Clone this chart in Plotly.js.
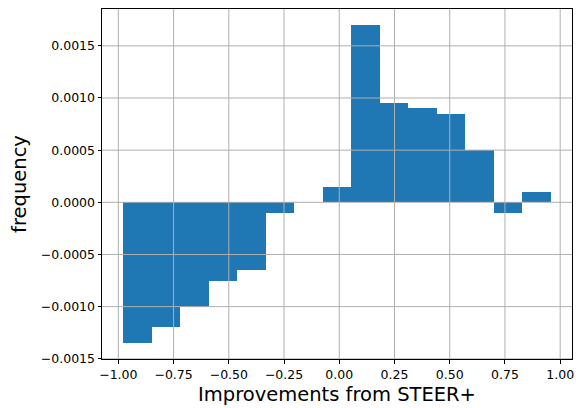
<!DOCTYPE html>
<html>
<head>
<meta charset="utf-8">
<script src="https://cdn.plot.ly/plotly-3.0.1.min.js"></script>
<style>html,body{margin:0;padding:0;background:#fff;}#chart{width:576px;height:408px;}</style>
</head>
<body>
<div id="chart"></div>
<script>
// Bin centers (improvement) and bar heights (frequency)
const binCenters = [-0.913, -0.784, -0.655, -0.526, -0.397, -0.268, -0.139, -0.010, 0.119, 0.248, 0.377, 0.506, 0.635, 0.764, 0.893];
const frequency = [-0.00135, -0.0012, -0.0010, -0.00075, -0.00065, -0.0001, 0.0, 0.00015, 0.0017, 0.00095, 0.0009, 0.00085, 0.0005, -0.0001, 0.0001];
const binWidth = 0.129;
const xTicks = [-1.0, -0.75, -0.5, -0.25, 0.0, 0.25, 0.5, 0.75, 1.0];
const yTicks = [-0.0015, -0.0010, -0.0005, 0.0, 0.0005, 0.0010, 0.0015];

function fmt(v, d) {
  const s = Math.abs(v).toFixed(d);
  return v < 0 ? '\u2212' + s : s;
}

const gridShapes = [];
xTicks.forEach(v => gridShapes.push({type:'line', layer:'above', xref:'x', yref:'paper', x0:v, x1:v, y0:0, y1:1, line:{color:'#b0b0b0', width:1}}));
yTicks.forEach(v => gridShapes.push({type:'line', layer:'above', xref:'paper', yref:'y', x0:0, x1:1, y0:v, y1:v, line:{color:'#b0b0b0', width:1}}));

const trace = {
  type: 'bar',
  x: binCenters,
  y: frequency,
  width: binWidth,
  marker: {color: '#1f77b4', line: {width: 0}},
  hoverinfo: 'x+y'
};

const family = 'DejaVu Sans, sans-serif';
const layout = {
  width: 576, height: 408,
  margin: {l: 102, r: 4, t: 9, b: 49, pad: 0},
  paper_bgcolor: '#fff', plot_bgcolor: '#fff',
  showlegend: false,
  bargap: 0,
  font: {family: family, size: 12.5, color: '#000'},
  xaxis: {
    range: [-1.074, 1.0535],
    tickmode: 'array',
    tickvals: xTicks,
    ticktext: xTicks.map(v => fmt(v, 2)),
    ticks: 'outside', ticklen: 3.5, tickwidth: 1, tickcolor: '#000',
    showgrid: false, zeroline: false,
    showline: true, linecolor: '#000', linewidth: 1, mirror: true,
    tickfont: {family: family, size: 12.5, color: '#000'},
    title: {text: 'Improvements from STEER+', font: {family: family, size: 19.5, color: '#000'}, standoff: 6},
    automargin: false
  },
  yaxis: {
    range: [-0.001502, 0.001853],
    tickmode: 'array',
    tickvals: yTicks,
    ticktext: yTicks.map(v => fmt(v, 4)),
    ticks: 'outside', ticklen: 3.5, tickwidth: 1, tickcolor: '#000',
    showgrid: false, zeroline: false,
    showline: true, linecolor: '#000', linewidth: 1, mirror: true,
    tickfont: {family: family, size: 12.5, color: '#000'},
    title: {text: 'frequency', font: {family: family, size: 19.5, color: '#000'}, standoff: 8},
    automargin: false
  },
  shapes: gridShapes
};

Plotly.newPlot('chart', [trace], layout, {displayModeBar: false, staticPlot: true});
</script>
</body>
</html>
